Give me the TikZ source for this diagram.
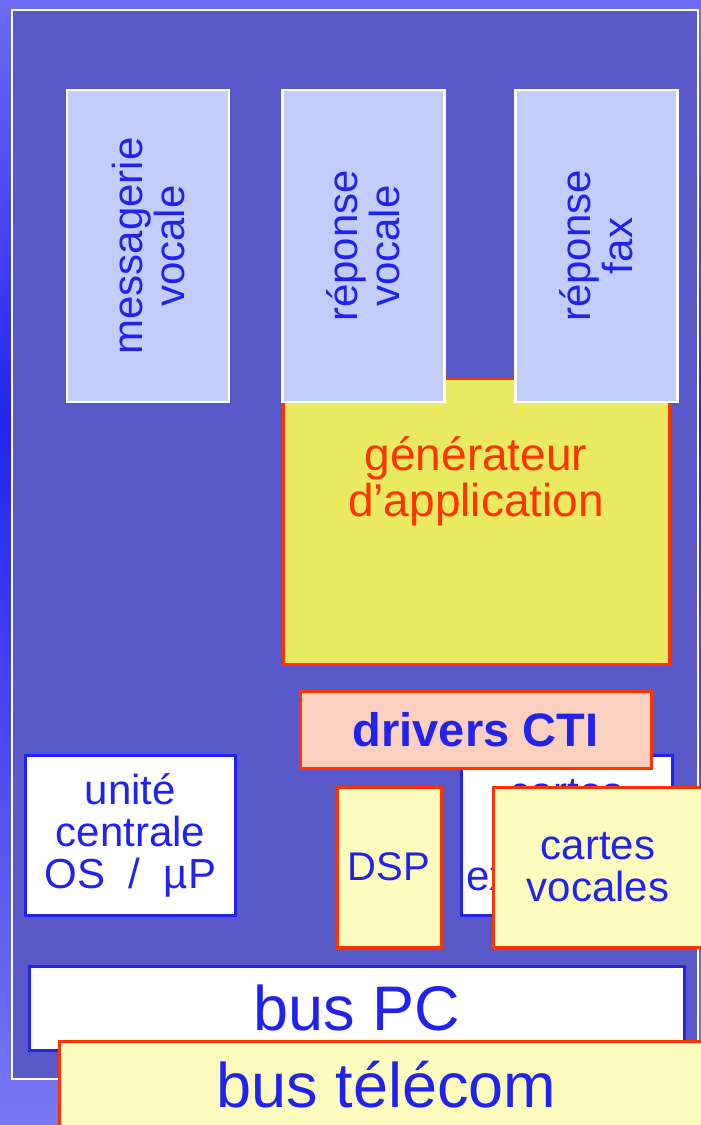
\documentclass[tikz,border=0pt]{standalone}
\usepackage{fontspec}
\setmainfont{Liberation Sans}
\usepackage{tikz}
\usetikzlibrary{positioning}

\definecolor{textblue}{HTML}{2222EE}
\definecolor{panelblue}{HTML}{C3CDFB}
\definecolor{framefill}{HTML}{5858C8}
\definecolor{linered}{HTML}{FF3300}
\definecolor{genyellow}{HTML}{EAEA60}
\definecolor{paleyellow}{HTML}{FCFCBE}
\definecolor{salmon}{HTML}{FBD0C0}
\definecolor{bgtop}{HTML}{6C6CF4}
\definecolor{bgmid}{HTML}{2323EE}
\definecolor{bgbot}{HTML}{7878F2}

\newcommand{\fsz}[1]{\fontsize{#1pt}{#1pt}\selectfont}

\begin{document}
\begin{tikzpicture}[
    x=1pt, y=-1pt,
    % --- BOX STYLES ---
    box/.style={rectangle, inner sep=0pt, align=center, text=textblue, font=\fsz{42}},
    panel/.style={box, rotate=90, draw=white, line width=2.5pt, fill=panelblue,
                  minimum width=312pt, minimum height=162pt}, % application blocks
    genbox/.style={box, draw=linered, line width=3pt, fill=genyellow},
    card/.style={box, draw=textblue, line width=3pt, fill=white,
                 minimum width=210pt, minimum height=160pt}, % PC side
    chip/.style={box, draw=linered, line width=3pt, fill=paleyellow,
                 minimum height=160pt}, % telecom side
    bus/.style={box, line width=3pt, minimum width=655pt, minimum height=84pt, font=\fsz{63}}
]

% --- BACKGROUND ---
\useasboundingbox (0,0) rectangle (701,1125);
\shade[top color=bgtop, bottom color=bgmid] (0,0) rectangle (701,421);
\shade[top color=bgmid, bottom color=bgbot] (0,420) rectangle (701,1125);
\node (frame_bg) [rectangle, draw=white, line width=2pt, fill=framefill,
    minimum width=686pt, minimum height=1069pt] at (355,544.5) {};

% --- 1. APPLICATION GENERATOR ---
\node (gen_app) [genbox, minimum width=386pt, minimum height=286pt] at (476,521) {};
\node (gen_lbl) [box, text=linered, font=\fsz{46}] at (476,481) {générateur\\d’application};

% --- 2. APPLICATIONS ---
\node (messagerie) [panel] at (148,246) {messagerie\\vocale};
\node (rep_vocale) [panel] at (363.5,246) {réponse\\vocale};
\node (rep_fax) [panel] at (596.5,246) {réponse\\fax};

% --- 3. HARDWARE ---
\node (cpu_unit) [card] at (130.5,835) {unité\\centrale\\OS~~/~~µP};
\node (ext_cards) [card, minimum width=211pt] at (566.5,835) {cartes\\[41.5pt]extensions};
\node (dsp) [chip, minimum width=104pt, font=\fsz{40}] at (389,867) {DSP};
\node (voice_cards) [chip, minimum width=210pt] at (598,867) {cartes\\vocales};

% CTI layer sits on top of the cards
\node (drv_cti) [box, draw=linered, line width=3pt, fill=salmon, font=\fsz{47}\bfseries,
    minimum width=351pt, minimum height=77pt] at (475.5,729.5) {drivers CTI};

% --- 4. BUSES ---
\node (bus_pc) [bus, draw=textblue, fill=white] at (356.5,1008) {bus PC};
\node (bus_tel) [bus, draw=linered, fill=paleyellow, minimum height=88pt] at (386.5,1085) {bus télécom};

\end{tikzpicture}
\end{document}
